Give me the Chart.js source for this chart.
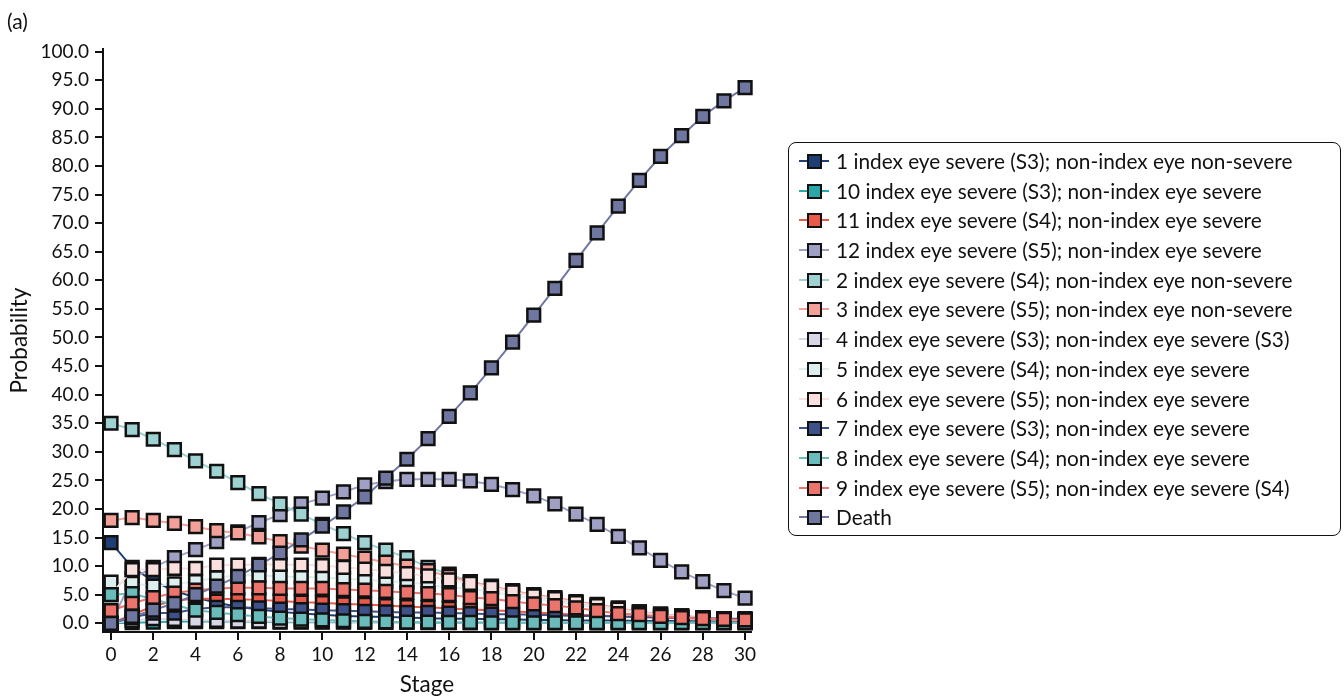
<!DOCTYPE html>
<html>
<head>
<meta charset="utf-8">
<script src="https://cdn.jsdelivr.net/npm/chart.js@4/dist/chart.umd.min.js"></script>
<style>
  body { margin: 0; background: #fff; font-family: Lato, "Open Sans", sans-serif; }
  #wrap { position: relative; width: 1344px; height: 698px; }
  #panel { position: absolute; left: 7px; top: 8px; font-size: 21px; color: #111; }
  #legend {
    position: absolute; left: 788px; top: 142px; width: 553px; height: 394px;
    border: 1.5px solid #111; border-radius: 8px; box-sizing: border-box;
    padding-top: 3px;
  }
  .item { position: relative; height: 29.7px; line-height: 29.7px; font-size: 20.8px; color: #111; white-space: nowrap; }
  .item .ln { position: absolute; left: 10px; top: 14px; width: 30px; height: 2px; }
  .item .sq { position: absolute; left: 18px; top: 8px; width: 11px; height: 11px; border: 2.5px solid #111; }
  .item .tx { position: absolute; left: 47px; top: 0; }
</style>
</head>
<body>
<div id="wrap">
  <canvas id="chart"></canvas>
  <div id="panel">(a)</div>
  <div id="legend"></div>
</div>
<script>
// stages on the x axis
const stages = [0,1,2,3,4,5,6,7,8,9,10,11,12,13,14,15,16,17,18,19,20,21,22,23,24,25,26,27,28,29,30];
const xTicks = [0,2,4,6,8,10,12,14,16,18,20,22,24,26,28,30];
const yTicks = [0,5,10,15,20,25,30,35,40,45,50,55,60,65,70,75,80,85,90,95,100];

// series names, in legend order
const seriesNames = [
  '1 index eye severe (S3); non-index eye non-severe',
  '10 index eye severe (S3); non-index eye severe',
  '11 index eye severe (S4); non-index eye severe',
  '12 index eye severe (S5); non-index eye severe',
  '2 index eye severe (S4); non-index eye non-severe',
  '3 index eye severe (S5); non-index eye non-severe',
  '4 index eye severe (S3); non-index eye severe (S3)',
  '5 index eye severe (S4); non-index eye severe',
  '6 index eye severe (S5); non-index eye severe',
  '7 index eye severe (S3); non-index eye severe',
  '8 index eye severe (S4); non-index eye severe',
  '9 index eye severe (S5); non-index eye severe (S4)',
  'Death'
];

const s1  = [14.1, 9.8, 7.4, 5.7, 4.5, 3.6, 2.9, 2.4, 2.0, 1.7, 1.5, 1.3, 1.2, 1.1, 1.0, 0.9, 0.8, 0.8, 0.7, 0.7, 0.6, 0.6, 0.5, 0.5, 0.5, 0.4, 0.4, 0.4, 0.3, 0.3, 0.3];
const s10 = [0.0, 0.1, 0.2, 0.3, 0.3, 0.3, 0.3, 0.3, 0.2, 0.2, 0.2, 0.2, 0.2, 0.2, 0.2, 0.1, 0.1, 0.1, 0.1, 0.1, 0.1, 0.1, 0.1, 0.1, 0.1, 0.1, 0.1, 0.1, 0.1, 0.1, 0.1];
const s11 = [0.0, 1.5, 3.0, 4.0, 4.3, 4.3, 4.2, 4.1, 3.9, 3.7, 3.6, 3.4, 3.3, 3.1, 2.9, 2.8, 2.6, 2.4, 2.3, 2.1, 1.9, 1.7, 1.5, 1.4, 1.2, 1.1, 1.0, 0.9, 0.8, 0.7, 0.6];
const s12 = [0.0, 7.8, 9.8, 11.5, 12.9, 14.3, 16.0, 17.6, 19.0, 20.9, 21.9, 23.0, 24.2, 24.8, 25.2, 25.2, 25.2, 24.9, 24.3, 23.4, 22.3, 20.9, 19.1, 17.3, 15.2, 13.2, 11.0, 9.0, 7.3, 5.7, 4.4];
const s2  = [35.0, 33.9, 32.2, 30.4, 28.4, 26.6, 24.6, 22.7, 20.9, 19.1, 17.3, 15.7, 14.1, 12.8, 11.5, 9.8, 8.6, 7.3, 6.3, 5.5, 4.8, 4.2, 3.6, 3.0, 2.5, 2.0, 1.6, 1.3, 1.0, 0.8, 0.6];
const s3  = [18.0, 18.5, 18.0, 17.5, 16.9, 16.2, 15.8, 15.1, 14.3, 13.5, 12.8, 12.1, 11.4, 10.7, 10.0, 9.2, 8.2, 7.3, 6.5, 5.7, 5.0, 4.5, 3.8, 3.3, 2.7, 2.0, 1.6, 1.3, 1.0, 0.8, 0.6];
const s4  = [0.0, 0.5, 0.8, 0.7, 0.5, 0.5, 0.4, 0.4, 0.3, 0.3, 0.3, 0.3, 0.2, 0.2, 0.2, 0.2, 0.2, 0.1, 0.1, 0.1, 0.1, 0.1, 0.1, 0.1, 0.1, 0.1, 0.1, 0.1, 0.1, 0.1, 0.1];
const s5  = [7.2, 7.0, 6.5, 6.9, 7.3, 8.0, 8.4, 8.4, 8.2, 8.1, 8.0, 7.8, 7.6, 7.4, 7.2, 6.8, 6.2, 6.1, 5.5, 4.9, 4.3, 3.8, 3.2, 2.8, 2.3, 1.8, 1.4, 1.1, 0.9, 0.7, 0.5];
const s6  = [5.0, 9.4, 9.4, 9.6, 9.6, 10.2, 10.2, 10.3, 10.3, 10.2, 10.1, 9.8, 9.5, 9.1, 8.7, 8.3, 7.6, 7.0, 6.3, 5.5, 4.8, 4.3, 3.6, 3.1, 2.5, 1.9, 1.5, 1.2, 0.9, 0.7, 0.5];
const s7  = [0.0, 1.0, 1.8, 1.8, 2.5, 2.8, 2.8, 2.7, 2.5, 2.4, 2.3, 2.2, 2.1, 2.0, 1.9, 1.9, 1.8, 1.7, 1.6, 1.6, 1.5, 1.4, 1.3, 1.3, 1.2, 1.1, 1.0, 1.0, 0.9, 0.8, 0.8];
const s8  = [5.0, 5.2, 4.2, 3.2, 2.3, 1.9, 1.5, 1.2, 0.9, 0.75, 0.6, 0.45, 0.35, 0.25, 0.2, 0.2, 0.15, 0.15, 0.1, 0.1, 0.1, 0.1, 0.1, 0.1, 0.1, 0.1, 0.1, 0.1, 0.1, 0.1, 0.1];
const s9  = [2.2, 3.5, 4.5, 5.3, 5.8, 6.1, 6.2, 6.2, 6.1, 6.1, 6.1, 5.9, 5.8, 5.6, 5.4, 5.2, 5.0, 4.5, 4.3, 3.8, 3.4, 3.1, 2.7, 2.2, 1.7, 1.5, 1.2, 1.0, 0.8, 0.7, 0.6];
const death = [0.0, 1.2, 2.3, 3.5, 5.0, 6.5, 8.2, 10.2, 12.3, 14.6, 17.0, 19.5, 22.1, 25.4, 28.7, 32.3, 36.2, 40.3, 44.7, 49.2, 53.9, 58.6, 63.5, 68.3, 73.0, 77.5, 81.7, 85.3, 88.7, 91.4, 93.7];

const seriesValues = [s1, s10, s11, s12, s2, s3, s4, s5, s6, s7, s8, s9, death];

const colors = [
  '#1e3f73', '#2aa7a8', '#ea5a4b', '#a09fc4', '#9dd1d2', '#f2a098',
  '#d6d6e6', '#dceeee', '#f9dfdd', '#3f5189', '#6abbbb', '#ec746d', '#6f77a1'
];

const FONT = 'Lato, "Open Sans", sans-serif';

const datasets = seriesValues.map((vals, i) => ({
  label: seriesNames[i],
  data: stages.map((s, j) => ({ x: s, y: vals[j] })),
  borderColor: colors[i],
  backgroundColor: colors[i],
  borderWidth: 2,
  pointStyle: 'rect',
  pointRadius: 9,
  pointHoverRadius: 9,
  pointBackgroundColor: colors[i],
  pointBorderColor: '#111',
  pointBorderWidth: 2.5,
  tension: 0,
  clip: false,
  // later series drawn on top
  order: seriesValues.length - i
}));

new Chart(document.getElementById('chart'), {
  type: 'line',
  data: { datasets: datasets },
  options: {
    responsive: true,
    maintainAspectRatio: false,
    animation: false,
    layout: { padding: { left: 0, top: 49, right: 593, bottom: 0 } },
    plugins: {
      legend: { display: false },
      tooltip: { enabled: false }
    },
    scales: {
      x: {
        type: 'linear',
        min: -0.379,
        max: 30.28,
        afterBuildTicks: function(scale) {
          scale.ticks = xTicks.map(v => ({ value: v }));
        },
        afterFit: function(scale) { scale.height = 66; },
        ticks: {
          autoSkip: false,
          maxRotation: 0,
          padding: 3,
          color: '#111',
          font: { family: FONT, size: 19 },
          callback: function(value) { return String(value); }
        },
        grid: { drawOnChartArea: false, drawTicks: true, tickLength: 8, color: '#111', lineWidth: 2 },
        border: { display: true, color: '#111', width: 2 },
        title: { display: true, text: 'Stage', color: '#111', font: { family: FONT, size: 22.5 }, padding: { top: -2, bottom: 0 } }
      },
      y: {
        type: 'linear',
        min: -1.52,
        max: 100.47,
        afterBuildTicks: function(scale) {
          scale.ticks = yTicks.map(v => ({ value: v }));
        },
        afterFit: function(scale) { scale.width = 103; },
        ticks: {
          autoSkip: false,
          padding: 6,
          color: '#111',
          font: { family: FONT, size: 19 },
          callback: function(value) { return value.toFixed(1); }
        },
        grid: { drawOnChartArea: false, drawTicks: true, tickLength: 8, color: '#111', lineWidth: 2 },
        border: { display: true, color: '#111', width: 2 },
        title: { display: true, text: 'Probability', color: '#111', font: { family: FONT, size: 22.5 }, padding: { top: 6, bottom: 0 } }
      }
    }
  }
});

// legend box: line-marker-line plus label
const legendEl = document.getElementById('legend');
seriesNames.forEach((name, i) => {
  const row = document.createElement('div');
  row.className = 'item';
  row.innerHTML = '<span class="ln"></span><span class="sq"></span><span class="tx"></span>';
  row.querySelector('.ln').style.background = colors[i];
  row.querySelector('.sq').style.background = colors[i];
  row.querySelector('.tx').textContent = name;
  legendEl.appendChild(row);
});
</script>
</body>
</html>
